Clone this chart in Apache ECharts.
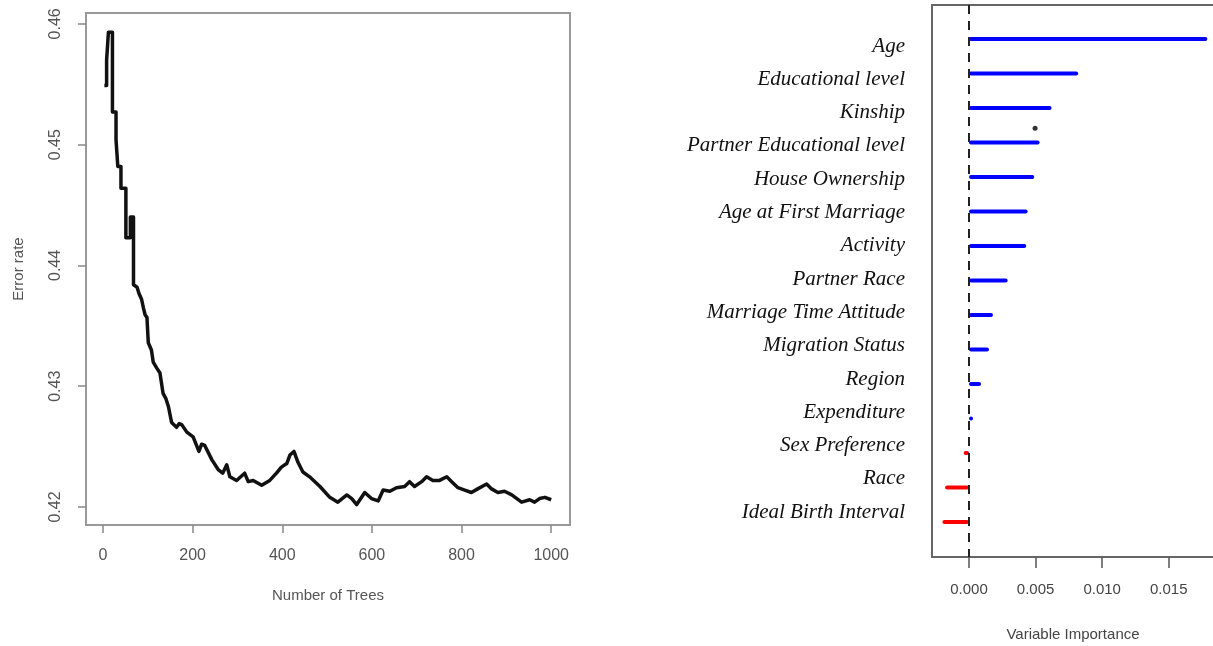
<!DOCTYPE html>
<html>
<head>
<meta charset="utf-8">
<script src="https://cdn.jsdelivr.net/npm/echarts@6/dist/echarts.min.js"></script>
<style>
html,body{margin:0;padding:0;background:#fff;}
#c{width:1213px;height:646px;}
</style>
</head>
<body>
<div id="c"></div>
<script>
// ---- Left panel: OOB error rate vs number of trees ----
const trees = [3,8,8,12,12,21,21,29,29,33,33,40,40,51,51,61,61,68,68,76,80,86,90,94,98,101,108,112,120,127,134,140,146,153,164,170,176,187,201,214,220,227,243,257,267,276,283,298,316,324,335,354,372,387,398,410,417,426,435,446,461,484,506,524,544,555,566,584,599,614,625,640,655,673,684,695,711,722,736,751,767,778,792,807,822,836,856,867,881,896,912,934,952,963,974,986,1000];
const errorRate = [0.4549,0.4549,0.4570,0.4570,0.4593,0.4593,0.4527,0.4527,0.4504,0.4504,0.4482,0.4482,0.4464,0.4464,0.4423,0.4423,0.4440,0.4440,0.4384,0.4382,0.4377,0.4372,0.4365,0.4359,0.4357,0.4336,0.4330,0.4320,0.4315,0.4311,0.4294,0.4290,0.4283,0.4270,0.4266,0.4269,0.4268,0.4262,0.4258,0.4246,0.4252,0.4251,0.4239,0.4231,0.4228,0.4235,0.4225,0.4222,0.4228,0.4221,0.4222,0.4218,0.4222,0.4228,0.4233,0.4236,0.4243,0.4246,0.4237,0.4229,0.4225,0.4217,0.4208,0.4204,0.4210,0.4207,0.4202,0.4212,0.4207,0.4205,0.4214,0.4213,0.4216,0.4217,0.4221,0.4217,0.4221,0.4225,0.4222,0.4222,0.4225,0.4221,0.4216,0.4214,0.4212,0.4215,0.4219,0.4215,0.4212,0.4213,0.4210,0.4204,0.4206,0.4204,0.4207,0.4208,0.4206];
const treeTicks = [0,200,400,600,800,1000];
const errorTicks = [0.42,0.43,0.44,0.45,0.46];

// ---- Right panel: variable importance ----
const variables = ["Age","Educational level","Kinship","Partner Educational level","House Ownership","Age at First Marriage","Activity","Partner Race","Marriage Time Attitude","Migration Status","Region","Expenditure","Sex Preference","Race","Ideal Birth Interval"];
const importance = [0.0179,0.0082,0.0062,0.0053,0.0049,0.0044,0.0043,0.0029,0.0018,0.0015,0.0009,0.0003,-0.0004,-0.0018,-0.0020];
const importanceTicks = [0,0.005,0.010,0.015];
const dotPoint = [0.00496, 3.57];

const chart = echarts.init(document.getElementById('c'), null, {renderer:'canvas'});
const sans = 'Liberation Sans, Arial, sans-serif';
const serif = 'Liberation Serif, Times New Roman, serif';

const option = {
  animation: false,
  backgroundColor: '#fff',
  grid: [
    {left: 86, top: 13, right: 643, bottom: 121, show: true, borderColor: '#999', borderWidth: 2, backgroundColor: 'transparent', outerBoundsMode: 'none', containLabel: false},
    {left: 932, top: 5, width: 310, bottom: 89, show: true, borderColor: '#666', borderWidth: 2, backgroundColor: 'transparent', outerBoundsMode: 'none', containLabel: false},
    {left: 932, top: 21.75, width: 310, height: 517.5, outerBoundsMode: 'none', containLabel: false},
    {left: 932, top: 29.35, width: 100, height: 499.5, outerBoundsMode: 'none', containLabel: false}
  ],
  xAxis: [
    {gridIndex: 0, type: 'value', min: -38, max: 1042,
     axisLine: {show: false, onZero: false}, splitLine: {show: false},
     axisTick: {show: true, inside: false, customValues: treeTicks, length: 8, lineStyle: {color: '#888', width: 1.5}},
     axisLabel: {customValues: treeTicks, margin: 23, fontSize: 16, fontFamily: sans, color: '#555',
                 formatter: v => String(v)},
     name: 'Number of Trees', nameLocation: 'middle', nameGap: 63,
     nameTextStyle: {fontSize: 15, fontFamily: sans, color: '#555'}},
    {gridIndex: 1, type: 'value', min: -0.00278, max: 0.0205,
     axisLine: {show: false, onZero: false}, splitLine: {show: false},
     axisTick: {show: true, inside: false, customValues: importanceTicks, length: 11, lineStyle: {color: '#555', width: 1.5}},
     axisLabel: {customValues: importanceTicks, margin: 25, fontSize: 15, fontFamily: sans, color: '#444',
                 formatter: v => v.toFixed(3)},
     name: 'Variable Importance', nameLocation: 'middle', nameGap: 70,
     nameTextStyle: {fontSize: 15, fontFamily: sans, color: '#444', align: 'center', padding: [0, 28, 0, 0]}},
    {gridIndex: 2, type: 'value', min: -0.00278, max: 0.0205, show: false},
    {gridIndex: 3, type: 'value', show: false}
  ],
  yAxis: [
    {gridIndex: 0, type: 'value', min: 0.41851, max: 0.4609,
     axisLine: {show: false, onZero: false}, splitLine: {show: false},
     axisTick: {show: true, inside: false, customValues: errorTicks, length: 8, lineStyle: {color: '#888', width: 1.5}},
     axisLabel: {customValues: errorTicks, rotate: 90, margin: 22, fontSize: 16, fontFamily: sans, color: '#555',
                 formatter: v => v.toFixed(2)},
     name: 'Error rate', nameLocation: 'middle', nameGap: 60, nameRotate: 90,
     nameTextStyle: {fontSize: 15, fontFamily: sans, color: '#555'}},
    {gridIndex: 1, type: 'value', min: 0, max: 16, inverse: true, show: false},
    {gridIndex: 2, type: 'category', data: variables, inverse: true, show: false},
    {gridIndex: 3, type: 'category', data: variables, inverse: true,
     axisLine: {show: false}, axisTick: {show: false}, splitLine: {show: false},
     axisLabel: {margin: 27, fontSize: 21, fontFamily: serif, fontStyle: 'italic', color: '#111'}}
  ],
  series: [
    {type: 'line', xAxisIndex: 0, yAxisIndex: 0, showSymbol: false, symbol: 'none',
     data: trees.map((t, i) => [t, errorRate[i]]),
     lineStyle: {color: '#111', width: 3.5, join: 'round'}},
    {type: 'scatter', xAxisIndex: 1, yAxisIndex: 1, symbol: 'circle', symbolSize: 5,
     itemStyle: {color: '#000'}, data: [dotPoint],
     markLine: {silent: true, symbol: 'none', label: {show: false},
                lineStyle: {color: '#222', width: 2, type: [9, 7]},
                data: [{xAxis: 0}]}},
    {type: 'bar', xAxisIndex: 2, yAxisIndex: 2, barWidth: 4,
     data: importance.map(v => ({value: v, itemStyle: {color: v < 0 ? '#ff0000' : '#0000ff', borderRadius: 2}}))}
  ]
};
chart.setOption(option);
</script>
</body>
</html>
